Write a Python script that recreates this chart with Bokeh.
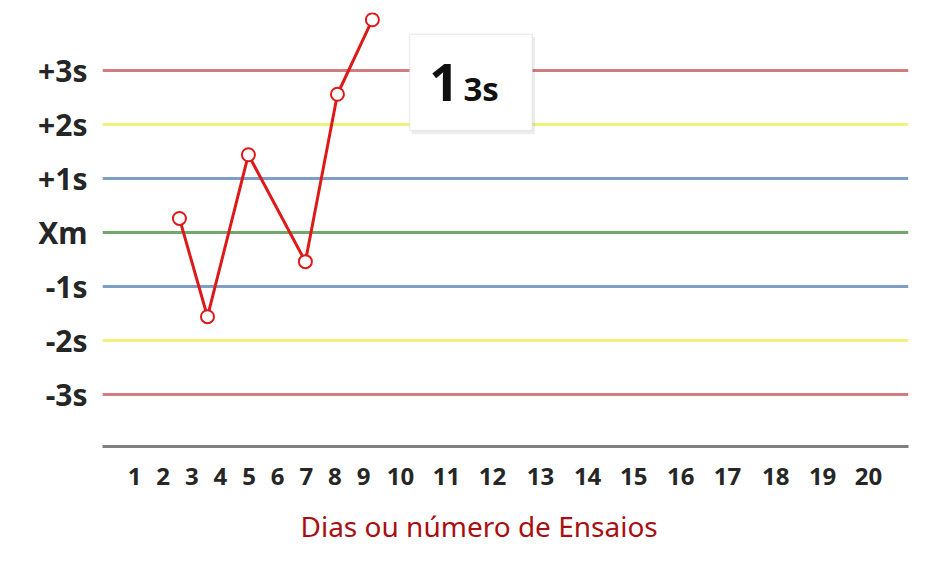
from bokeh.plotting import figure
from bokeh.models import FixedTicker, Range1d, Label, BoxAnnotation, Title
from bokeh.embed import file_html
from bokeh.resources import INLINE

# ---- data ----
level_values = [3, 2, 1, 0, -1, -2, -3]
level_labels = ["+3s", "+2s", "+1s", "Xm", "-1s", "-2s", "-3s"]
level_colors = ["#d07c80", "#f2f27a", "#7f9ec6", "#72a86c", "#7f9ec6", "#f2f27a", "#d07c80"]

day_labels = [str(d) for d in range(1, 21)]
# tick positions along the x scale (labels 10+ are set wider apart)
day_positions = [1, 2, 3, 4, 5, 6, 7, 8, 9,
                 10.29, 11.90, 13.51, 15.18, 16.83, 18.44, 20.08, 21.72, 23.40, 25.04, 26.64]

series_x = [2.57, 3.55, 4.98, 6.97, 8.09, 9.31]
series_y = [0.26, -1.56, 1.44, -0.54, 2.56, 3.94]

rule_big = "1"
rule_small = "3s"
x_title = "Dias ou número de Ensaios"

FONT = "Noto Sans"

p = figure(width=928, height=561, output_backend="svg", toolbar_location=None,
           x_range=Range1d(-0.118, 28.04), y_range=Range1d(-3.963, 4.074),
           min_border_left=102, min_border_right=20, min_border_top=12, min_border_bottom=115)
p.outline_line_color = None
p.xgrid.visible = False
p.ygrid.visible = False
p.background_fill_color = "white"
p.border_fill_color = "white"

# control lines
p.hspan(y=level_values, line_color=level_colors, line_width=3)

# series
p.line(series_x, series_y, line_color="#dd1a1a", line_width=3)
p.scatter(series_x, series_y, size=13, fill_color="white", line_color="#dd1a1a", line_width=2)

# y axis
ya = p.yaxis[0]
ya.ticker = FixedTicker(ticks=level_values)
ya.major_label_overrides = {v: l for v, l in zip(level_values, level_labels)}
ya.axis_line_color = None
ya.major_tick_line_color = None
ya.minor_tick_line_color = None
ya.major_tick_out = 0
ya.major_tick_in = 0
ya.major_label_text_font = FONT
ya.major_label_text_font_style = "bold"
ya.major_label_text_font_size = "30px"
ya.major_label_text_color = "#262626"
ya.major_label_standoff = 15

# x axis
xa = p.xaxis[0]
xa.ticker = FixedTicker(ticks=day_positions)
xa.major_label_overrides = {pos: lab for pos, lab in zip(day_positions, day_labels)}
xa.axis_line_color = "#808080"
xa.axis_line_width = 3
xa.major_tick_line_color = None
xa.minor_tick_line_color = None
xa.major_tick_out = 0
xa.major_tick_in = 0
xa.major_label_text_font = FONT
xa.major_label_text_font_style = "bold"
xa.major_label_text_font_size = "24px"
xa.major_label_text_color = "#262626"
xa.major_label_standoff = 21

# x title (below the axis)
p.add_layout(Title(text=x_title, align="left", offset=198, standoff=34,
                   text_font=FONT, text_font_size="28px", text_font_style="normal",
                   text_color="#a80f12"), "below")

# rule box (shadow + box)
p.add_layout(BoxAnnotation(left=10.68, right=14.99, top=3.62, bottom=1.82,
                           fill_color="#000000", fill_alpha=0.07, line_color=None, level="overlay"))
p.add_layout(BoxAnnotation(left=10.61, right=14.9, top=3.67, bottom=1.89,
                           fill_color="white", fill_alpha=1.0, line_color="#c8c8c8", line_width=1.5,
                           level="overlay"))
p.add_layout(Label(x=11.30, y=2.78, text=rule_big, text_align="left", text_baseline="middle",
                   text_font=FONT, text_font_style="bold", text_font_size="52px",
                   text_color="#111111", level="overlay"))
p.add_layout(Label(x=12.49, y=2.66, text=rule_small, text_align="left", text_baseline="middle",
                   text_font=FONT, text_font_style="bold", text_font_size="33px",
                   text_color="#111111", level="overlay"))

open("out.html", "w").write(file_html(p, INLINE))
